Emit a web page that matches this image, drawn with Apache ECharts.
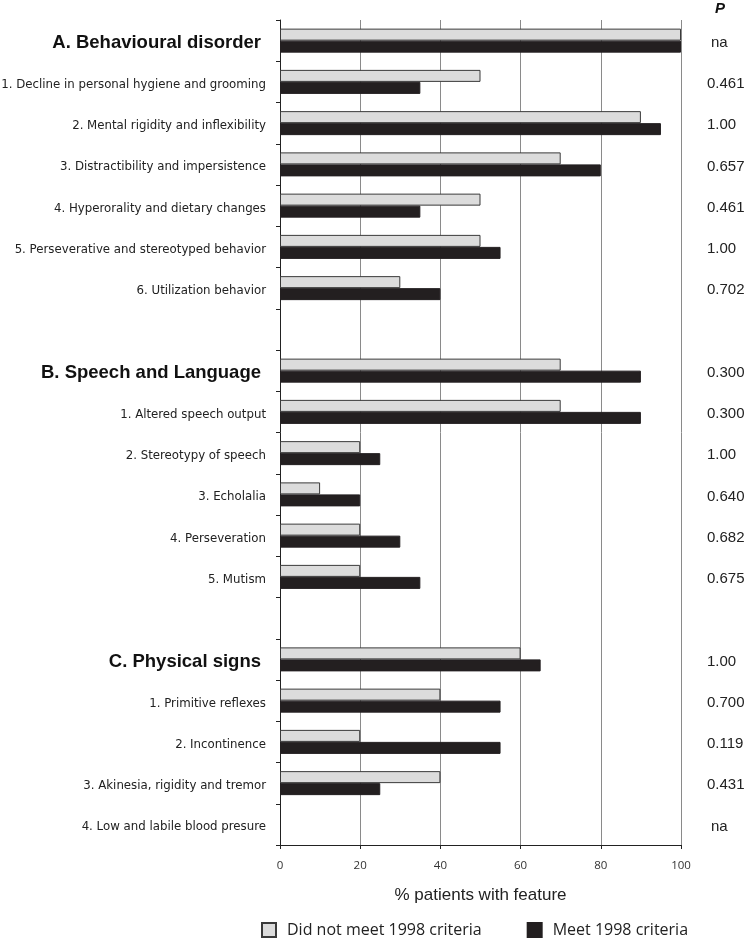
<!DOCTYPE html>
<html><head><meta charset="utf-8">
<script src="https://cdn.jsdelivr.net/npm/echarts@6/dist/echarts.min.js"></script>
<style>html,body{margin:0;padding:0;background:#fff}#c{width:749px;height:939px}</style>
</head><body><div id="c"></div>
<script>
const categories = [
  'A. Behavioural disorder',
  '1. Decline in personal hygiene and grooming',
  '2. Mental rigidity and inflexibility',
  '3. Distractibility and impersistence',
  '4. Hyperorality and dietary changes',
  '5. Perseverative and stereotyped behavior',
  '6. Utilization behavior',
  '',
  'B. Speech and Language',
  '1. Altered speech output',
  '2. Stereotypy of speech',
  '3. Echolalia',
  '4. Perseveration',
  '5. Mutism',
  ' ',
  'C. Physical signs',
  '1. Primitive reflexes',
  '2. Incontinence',
  '3. Akinesia, rigidity and tremor',
  '4. Low and labile blood presure'
];
const headers = ['A. Behavioural disorder','B. Speech and Language','C. Physical signs'];
const notMet = [100,50,90,70,50,50,30,null,70,70,20,10,20,20,null,60,40,20,40,null];
const met    = [100,35,95,80,35,55,40,null,90,90,25,20,30,35,null,65,55,55,25,null];
const pValues = ['na','0.461','1.00','0.657','0.461','1.00','0.702','','0.300','0.300','1.00','0.640','0.682','0.675','','1.00','0.700','0.119','0.431','na'];
const xTicks = [0,20,40,60,80,100];
const seriesNames = ['Did not meet 1998 criteria','Meet 1998 criteria'];

const chart = echarts.init(document.getElementById('c'));
chart.setOption({
  animation:false,
  backgroundColor:'#fff',
  grid:{left:280,right:68,top:20,bottom:94,containLabel:false,outerBoundsMode:'none'},
  xAxis:{type:'value',min:xTicks[0],max:xTicks[xTicks.length-1],interval:20,
    name:'% patients with feature',nameLocation:'middle',nameGap:42,
    nameTextStyle:{fontFamily:'Liberation Sans',fontSize:17,color:'#222'},
    axisLine:{show:true,lineStyle:{color:'#222',width:1}},
    axisTick:{show:true,length:4,lineStyle:{color:'#222'}},
    axisLabel:{fontFamily:'Open Sans',fontSize:11.5,color:'#333',margin:15},
    splitLine:{show:true,lineStyle:{color:'#8a8a8a',width:1}}},
  yAxis:[{type:'category',data:categories,inverse:true,
    axisLine:{show:true,lineStyle:{color:'#222',width:1}},
    axisTick:{show:true,length:4,inside:false,alignWithLabel:false,lineStyle:{color:'#222'}},
    axisLabel:{margin:14,padding:[5,0,0,0],fontFamily:'DejaVu Sans Condensed, sans-serif',fontSize:13.1,color:'#222',
      formatter:function(v){return headers.indexOf(v)>=0?'{h|'+v+'}':v;},
      rich:{h:{fontFamily:'Liberation Sans',fontWeight:'bold',fontSize:18.5,color:'#111',padding:[0,5,0,0]}}},
    splitLine:{show:false}},
   {type:'category',data:pValues,inverse:true,position:'right',
    axisLine:{show:false},axisTick:{show:false},
    axisLabel:{margin:26,padding:[4,0,0,0],align:'left',fontFamily:'Liberation Sans',fontSize:15,color:'#222',
      formatter:function(v){return v==='na'?'{n|'+v+'}':v;},
      rich:{n:{fontFamily:'Liberation Sans',fontSize:15,color:'#222',padding:[0,0,0,4]}}},
    name:'P',nameLocation:'start',nameGap:4,
    nameTextStyle:{fontFamily:'Liberation Sans',fontWeight:'bold',fontStyle:'italic',fontSize:15,color:'#111',align:'left',padding:[0,0,0,34]}}],
  legend:{bottom:-4,left:256,itemWidth:14,itemHeight:14,itemGap:45,icon:'rect',
    textStyle:{fontFamily:'Open Sans',fontSize:16,color:'#222',padding:[0,0,0,6]},
    data:seriesNames},
  series:[
    {name:seriesNames[0],type:'bar',yAxisIndex:0,data:notMet,barWidth:12,barGap:'0%',
      itemStyle:{color:'#dcdcdc',borderColor:'#3a3a3a',borderWidth:1}},
    {name:seriesNames[1],type:'bar',yAxisIndex:0,data:met,barWidth:12,barGap:'0%',
      itemStyle:{color:'#231f20',borderColor:'#231f20',borderWidth:1}}
  ]
});
</script></body></html>
